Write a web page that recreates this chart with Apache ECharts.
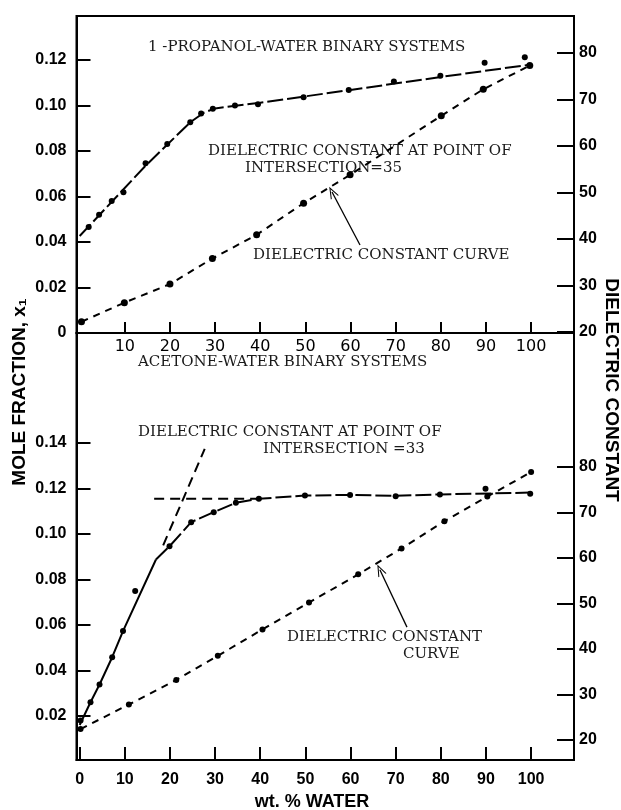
<!DOCTYPE html>
<html>
<head>
<meta charset="utf-8">
<script src="https://cdn.jsdelivr.net/npm/echarts@6/dist/echarts.min.js"></script>
<style>html,body{margin:0;padding:0;background:#fff;}#c{width:621px;height:810px;}</style>
</head>
<body>
<div id="c"></div>
<script>
// ---------- tick labels ----------
const xTicksTop = [10, 20, 30, 40, 50, 60, 70, 80, 90, 100];
const xTicksBottom = [0, 10, 20, 30, 40, 50, 60, 70, 80, 90, 100];
const moleTicksTop = [0, 0.02, 0.04, 0.06, 0.08, 0.10, 0.12];
const moleTicksBottom = [0.02, 0.04, 0.06, 0.08, 0.10, 0.12, 0.14];
const dcTicks = [20, 30, 40, 50, 60, 70, 80];

// ---------- 1-propanol / water (top panel) ----------
const propMoleX = [2.0, 4.3, 7.1, 9.7, 14.6, 19.4, 24.5, 26.9, 29.5, 34.4, 39.5, 49.6, 59.6, 69.6, 79.9, 89.7, 98.6];
const propMoleY = [0.0466, 0.052, 0.058, 0.0618, 0.0746, 0.083, 0.0926, 0.0965, 0.0985, 0.1000, 0.1005, 0.1036, 0.1068, 0.1105, 0.1130, 0.1188, 0.1212];
const propCurveX = [0, 14.6, 24.5, 27.5, 30, 40, 60, 80, 99.3];
const propCurveY = [0.0426, 0.0735, 0.0926, 0.0968, 0.0987, 0.1012, 0.1068, 0.1125, 0.1178];
const propDcX = [0.4, 9.9, 20.0, 29.4, 39.2, 49.6, 59.9, 80.1, 89.4, 99.7];
const propDcY = [22.2, 26.3, 30.3, 35.8, 40.9, 47.7, 53.8, 66.5, 72.2, 77.3];

// ---------- acetone / water (bottom panel) ----------
const acetMoleX = [0.2, 2.4, 4.4, 7.2, 9.6, 12.3, 19.9, 24.7, 29.7, 34.6, 39.7, 49.9, 59.9, 70.0, 79.8, 89.9, 99.8];
const acetMoleY = [0.018, 0.026, 0.0338, 0.0458, 0.0573, 0.0749, 0.0946, 0.1052, 0.1096, 0.1137, 0.1155, 0.1169, 0.1172, 0.1166, 0.1174, 0.1199, 0.1177];
const acetSteepX = [0, 2.4, 4.4, 7.2, 9.6, 16.9];
const acetSteepY = [0.016, 0.026, 0.0338, 0.0458, 0.0573, 0.0888];
const acetFlatX = [16.9, 19.9, 24.7, 29.7, 34.6, 39.7, 49.9, 59.9, 70.0, 79.8, 99.8];
const acetFlatY = [0.0888, 0.0946, 0.1052, 0.1096, 0.1137, 0.1155, 0.1169, 0.1172, 0.1168, 0.1174, 0.1182];
const acetTanSteepX = [18.5, 27.7];
const acetTanSteepY = [0.0950, 0.1374];
const acetTanFlatX = [16.5, 40.0];
const acetTanFlatY = [0.1155, 0.1155];
const acetDcX = [0.2, 10.9, 21.4, 30.6, 40.5, 50.8, 61.7, 71.3, 80.8, 90.3, 100];
const acetDcY = [22.4, 27.8, 33.2, 38.5, 44.3, 50.2, 56.4, 62.1, 68.1, 73.5, 78.9];

// ---------- annotation arrows (data coords: [wt% water, dielectric constant]) ----------
const arrowTop = [[62.1, 38.7], [55.9, 50.1]];
const arrowBottom = [[72.5, 44.8], [66.5, 57.4]];

const zip = (xs, ys) => xs.map((x, i) => [x, ys[i]]);

const INK = '#000';
const tickFont = 'Liberation Sans, Arial, sans-serif';
const serif = '"DejaVu Serif", "Liberation Serif", serif';
const arrowHead = 'path://M5,0 L10,10 L8.8,10 L5,2.4 L1.2,10 L0,10 Z';

function xAxis(grid, ticks, bold, len, margin) {
  return {
    type: 'value', gridIndex: grid, min: -0.7, max: 109.5, position: 'bottom',
    axisLine: { show: true, onZero: false, lineStyle: { color: INK, width: 2 } },
    axisTick: { show: true, inside: true, length: len, customValues: ticks, lineStyle: { color: INK, width: 2 } },
    axisLabel: { customValues: ticks, color: INK, fontSize: 16, margin: margin,
      fontWeight: bold ? 'bold' : 'normal', fontFamily: bold ? tickFont : 'DejaVu Sans, sans-serif' },
    splitLine: { show: false }
  };
}
function yAxis(grid, pos, min, max, ticks, len, margin, fmt) {
  return {
    type: 'value', gridIndex: grid, position: pos, min: min, max: max,
    axisLine: { show: true, onZero: false, lineStyle: { color: INK, width: 2 } },
    axisTick: { show: true, inside: true, length: len, customValues: ticks, lineStyle: { color: INK, width: 2 } },
    axisLabel: { customValues: ticks, color: INK, fontSize: 16, fontWeight: 'bold', fontFamily: tickFont,
      margin: margin, formatter: fmt },
    splitLine: { show: false }
  };
}
const moleFmt = v => (Math.abs(v) < 1e-9 ? '0' : v.toFixed(2));
const dcFmt = v => String(Math.round(v));

function txt(x, y, text) {
  return {
    type: 'text', x: x, y: y, silent: true,
    style: { text: text, fill: '#1a1a1a', font: '15px ' + serif, align: 'left', verticalAlign: 'middle' }
  };
}

const dot = { color: INK, opacity: 1 };

const chart = echarts.init(document.getElementById('c'), null, { renderer: 'canvas' });
chart.setOption({
  animation: false,
  backgroundColor: '#fff',
  grid: [
    { left: 76.5, right: 47, top: 16, height: 317, show: true, borderColor: INK, borderWidth: 2, backgroundColor: 'transparent' },
    { left: 76.5, right: 47, top: 333, height: 427, show: true, borderColor: INK, borderWidth: 2, backgroundColor: 'transparent' }
  ],
  xAxis: [
    xAxis(0, xTicksTop, false, 11, 6),
    xAxis(1, xTicksBottom, true, 13, 12)
  ],
  yAxis: [
    yAxis(0, 'left', 0, 0.1393, moleTicksTop, 14, 10, moleFmt),
    yAxis(0, 'right', 19.78, 87.96, dcTicks, 17, 5, dcFmt),
    yAxis(1, 'left', 0.0006, 0.1884, moleTicksBottom, 14, 10, moleFmt),
    yAxis(1, 'right', 15.6, 109.45, dcTicks, 17, 5, dcFmt)
  ],
  series: [
    { type: 'line', xAxisIndex: 0, yAxisIndex: 0, data: zip(propCurveX, propCurveY), symbol: 'none',
      lineStyle: { color: INK, width: 2, type: [16, 4] } },
    { type: 'scatter', xAxisIndex: 0, yAxisIndex: 0, data: zip(propMoleX, propMoleY), symbolSize: 6,
      itemStyle: dot },
    { type: 'line', xAxisIndex: 0, yAxisIndex: 1, data: zip(propDcX, propDcY), symbol: 'circle', symbolSize: 7,
      itemStyle: dot, lineStyle: { color: INK, width: 2, type: [7, 6] },
      markLine: { silent: true, symbol: ['none', arrowHead], symbolSize: [9, 12], label: { show: false },
        lineStyle: { color: INK, width: 1.3, type: 'solid' },
        data: [[{ coord: arrowTop[0] }, { coord: arrowTop[1] }]] } },
    { type: 'line', xAxisIndex: 1, yAxisIndex: 2, data: zip(acetSteepX, acetSteepY), symbol: 'none',
      lineStyle: { color: INK, width: 2, type: 'solid' } },
    { type: 'line', xAxisIndex: 1, yAxisIndex: 2, data: zip(acetFlatX, acetFlatY), symbol: 'none',
      lineStyle: { color: INK, width: 2, type: [16, 4] } },
    { type: 'scatter', xAxisIndex: 1, yAxisIndex: 2, data: zip(acetMoleX, acetMoleY), symbolSize: 6,
      itemStyle: dot },
    { type: 'line', xAxisIndex: 1, yAxisIndex: 2, data: zip(acetTanSteepX, acetTanSteepY), symbol: 'none',
      lineStyle: { color: INK, width: 2, type: [10, 6] } },
    { type: 'line', xAxisIndex: 1, yAxisIndex: 2, data: zip(acetTanFlatX, acetTanFlatY), symbol: 'none',
      lineStyle: { color: INK, width: 2, type: [10, 6] } },
    { type: 'line', xAxisIndex: 1, yAxisIndex: 3, data: zip(acetDcX, acetDcY), symbol: 'circle', symbolSize: 6,
      itemStyle: dot, lineStyle: { color: INK, width: 2, type: [7, 6] },
      markLine: { silent: true, symbol: ['none', arrowHead], symbolSize: [9, 12], label: { show: false },
        lineStyle: { color: INK, width: 1.3, type: 'solid' },
        data: [[{ coord: arrowBottom[0] }, { coord: arrowBottom[1] }]] } }
  ],
  graphic: [
    txt(148, 47, '1 -PROPANOL-WATER BINARY SYSTEMS'),
    txt(208, 151, 'DIELECTRIC CONSTANT AT POINT OF'),
    txt(245, 168, 'INTERSECTION=35'),
    txt(253, 255, 'DIELECTRIC CONSTANT CURVE'),
    txt(138, 362, 'ACETONE-WATER BINARY SYSTEMS'),
    txt(138, 432, 'DIELECTRIC CONSTANT AT POINT OF'),
    txt(263, 449, 'INTERSECTION =33'),
    txt(287, 637, 'DIELECTRIC CONSTANT'),
    txt(403, 654, 'CURVE'),
    { type: 'text', x: 20, y: 392, rotation: Math.PI / 2, silent: true,
      style: { text: 'MOLE FRACTION, x₁', fill: INK, font: 'bold 19px ' + tickFont, align: 'center', verticalAlign: 'middle' } },
    { type: 'text', x: 611, y: 390, rotation: -Math.PI / 2, silent: true,
      style: { text: 'DIELECTRIC CONSTANT', fill: INK, font: 'bold 19px ' + tickFont, align: 'center', verticalAlign: 'middle' } },
    { type: 'text', x: 312, y: 802, silent: true,
      style: { text: 'wt. % WATER', fill: INK, font: 'bold 18px ' + tickFont, align: 'center', verticalAlign: 'middle' } }
  ]
});
</script>
</body>
</html>
